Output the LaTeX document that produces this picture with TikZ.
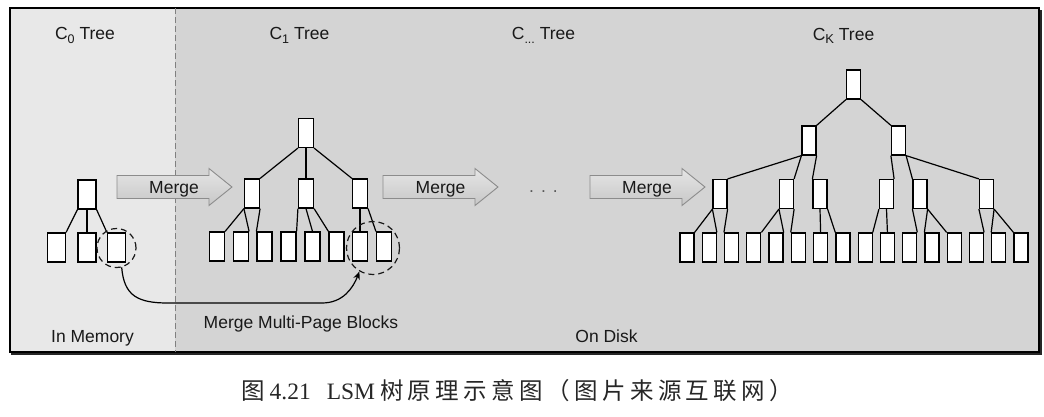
\documentclass[tikz,border=0pt]{standalone}
\usepackage{fontspec}
\setmainfont{Liberation Sans}
\newfontfamily\cjkfont{Noto Sans CJK SC}
\newfontfamily\capfont{Liberation Serif}
\usetikzlibrary{arrows.meta}
\definecolor{leftbg}{HTML}{E8E8E8}
\definecolor{rightbg}{HTML}{D4D4D4}
\tikzset{
  blk/.style={draw=black, fill=white, line width=1.2pt, minimum width=14pt, minimum height=29pt, inner sep=0pt},
  blkz/.style={blk, minimum width=18pt},
  tl/.style={line width=1.2pt, black},
  lbl/.style={font=\fontsize{17.5}{20}\selectfont, inner sep=0pt, anchor=base, text=black!90},
  dcirc/.style={draw=black!90, circle, dash pattern=on 6pt off 4pt, line width=1.2pt, inner sep=0pt},
  marrow/.style={draw=black!45, line width=0.9pt, top color=black!10, bottom color=black!22},
}
\newcommand\edL[2]{\draw[tl] (#1.south west) -- (#2.north east);}
\newcommand\edM[2]{\draw[tl] (#1.south) -- (#2.north);}
\newcommand\edR[2]{\draw[tl] (#1.south east) -- (#2.north west);}
\newcommand\mergeshape[1]{%
  \draw[marrow] (#1,175.5) -- ++(92,0) -- ++(0,-7) -- ++(23,18.5) -- ++(-23,18.5) -- ++(0,-7) -- ++(-92,0) -- cycle;}
\newcommand\cs{\hspace{4.3pt}}
\begin{document}
\begin{tikzpicture}[x=1pt,y=-1pt]
\useasboundingbox (0,0) rectangle (1044,416);
% backgrounds and frame
\fill[leftbg] (10,8) rectangle (175,352);
\fill[rightbg] (175,8) rectangle (1039,352);
\draw[line width=2.6pt, black!85] (11,353.5) -- (1040.5,353.5) -- (1040.5,10);
\draw[line width=1.2pt, black] (10,8) rectangle (1039,352);
\draw[black!50, line width=0.8pt, dash pattern=on 6pt off 3pt] (175,8) -- (175,352);

% titles
\node[lbl] (t0) at (85,39.5) {C\raisebox{-3.5pt}{\fontsize{12.5}{13}\selectfont 0} Tree};
\node[lbl] (t1) at (299.5,39.5) {C\raisebox{-3.5pt}{\fontsize{12.5}{13}\selectfont 1} Tree};
\node[lbl] (t2) at (543.5,39.5) {C\raisebox{-3.5pt}{\fontsize{12.5}{13}\selectfont ...} Tree};
\node[lbl] (t3) at (843.5,40) {C\raisebox{-3pt}{\fontsize{13}{13}\selectfont K} Tree};

% C0 tree
\node[blkz] (r0) at (87,194.5) {};
\node[blkz] (l01) at (56.5,247.5) {};
\node[blkz] (l02) at (87,247.5) {};
\node[blkz] (l03) at (116.5,247.5) {};
\edL{r0}{l01} \edM{r0}{l02} \edR{r0}{l03}

% C1 tree
\node[blk, minimum width=15pt] (r1) at (306,133) {};
\foreach \n/\x in {a1/252,a2/306,a3/360}
  \node[blk, minimum width=15pt] (\n) at (\x,193.5) {};
\foreach \n/\x in {p1/217,p2/241,p3/264.5,p4/288.5,p5/312.5,p6/336.5,p7/360,p8/384}
  \node[blk, minimum width=15pt] (\n) at (\x,246.5) {};
\edL{r1}{a1} \edM{r1}{a2} \edR{r1}{a3}
\edL{a1}{p1} \edL{a1}{p2} \edR{a1}{p3}
\edL{a2}{p4} \edM{a2}{p5} \edR{a2}{p6}
\edM{a3}{p7} \edR{a3}{p8}

% CK tree
\node[blk] (rk) at (853.5,84.5) {};
\node[blk] (b1) at (809,140.5) {};
\node[blk] (b2) at (898.5,140.5) {};
\foreach \n/\x in {n1/720,n2/786.5,n3/820,n4/886.5,n5/920,n6/986.5}
  \node[blk] (\n) at (\x,194) {};
\foreach \i in {0,...,15}
  \node[blk] (k\i) at ({687+22.27*\i},247.5) {};
\edL{rk}{b1} \edR{rk}{b2}
\edL{b1}{n1} \edL{b1}{n2} \edR{b1}{n3}
\edL{b2}{n4} \edR{b2}{n5} \edR{b2}{n6}
\edL{n1}{k0} \edL{n1}{k1} \edR{n1}{k2}
\edL{n2}{k3} \edL{n2}{k4} \edR{n2}{k5}
\edM{n3}{k6} \edR{n3}{k7}
\edL{n4}{k8} \edM{n4}{k9}
\edL{n5}{k10} \edR{n5}{k11} \edR{n5}{k12}
\edL{n6}{k13} \edR{n6}{k14} \edR{n6}{k15}

% dashed circles
\node[dcirc, minimum size=39pt] (c0c) at (116.5,248) {};
\node[dcirc, minimum size=53pt] (c1c) at (373,248) {};
\draw[line width=1.2pt, -{Stealth[length=8pt,width=6.5pt]}]
  (c0c.285) .. controls (124,296) and (138,303) .. (168,303)
  -- (322,303) .. controls (343,303) and (353,288) .. (c1c.240);

% merge arrows
\mergeshape{117}
\mergeshape{383}
\mergeshape{590}
\node[lbl] (m1) at (174,193) {Merge};
\node[lbl] (m2) at (440.5,193) {Merge};
\node[lbl] (m3) at (647,193) {Merge};
\node[lbl, text=black!65] (dots) at (543.5,192) {.\hspace{7pt}.\hspace{7pt}.};

% bottom labels
\node[lbl] (mem) at (92.5,342.5) {In Memory};
\node[lbl] (mmp) at (301,328) {Merge Multi-Page Blocks};
\node[lbl] (disk) at (606.5,342.5) {On Disk};

% caption
\node[inner sep=0pt, anchor=base west, font=\fontsize{23.5}{26}\selectfont, text=black!85] (cap) at (241,399.5)
  {{\cjkfont 图}\hspace{5pt}{\capfont 4.21}\hspace{16pt}{\capfont LSM}\hspace{5pt}{\cjkfont 树\cs 原\cs 理\cs 示\cs 意\cs 图\cs （\cs 图\cs 片\cs 来\cs 源\cs 互\cs 联\cs 网\cs ）}};
\end{tikzpicture}
\end{document}
